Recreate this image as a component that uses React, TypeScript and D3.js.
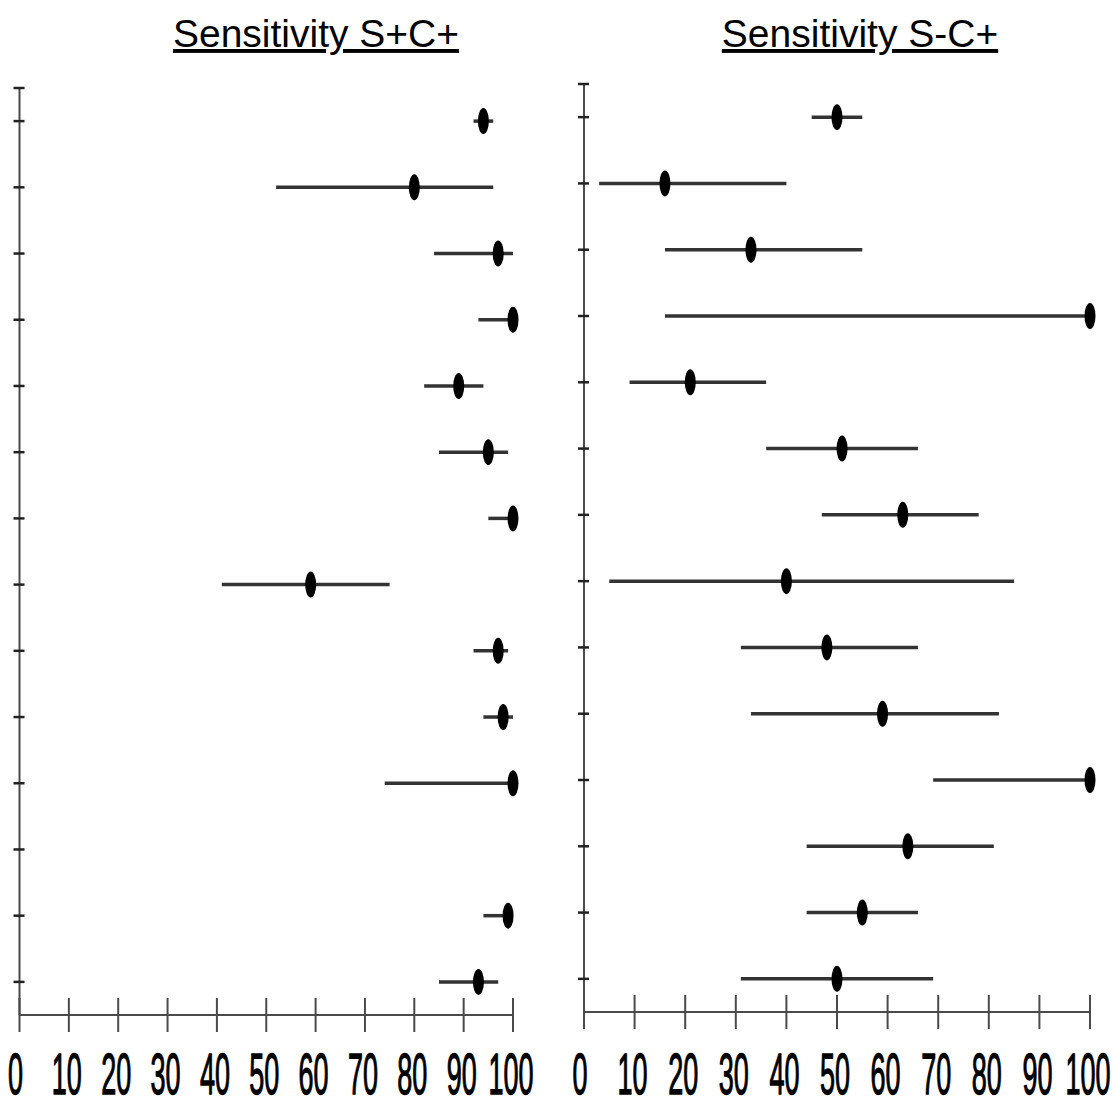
import React from "react";
import * as d3 from "d3";

// rows top to bottom, one estimate with its interval per row (null = no study result)
const leftEst = [94, 80, 97, 100, 89, 95, 100, 59, 97, 98, 100, null, 99, 93];
const leftLo = [92, 52, 84, 93, 82, 85, 95, 41, 92, 94, 74, null, 94, 85];
const leftHi = [96, 96, 100, 100, 94, 99, 100, 75, 99, 100, 100, null, 99.5, 97];

const rightEst = [50, 16, 33, 100, 21, 51, 63, 40, 48, 59, 100, 64, 55, 50];
const rightLo = [45, 3, 16, 16, 9, 36, 47, 5, 31, 33, 69, 44, 44, 31];
const rightHi = [55, 40, 55, 100, 36, 66, 78, 85, 66, 82, 100, 81, 66, 69];

const xTicks = [0, 10, 20, 30, 40, 50, 60, 70, 80, 90, 100];
const titles = ["Sensitivity S+C+", "Sensitivity S-C+"];

const width = 1114;
const height = 1108;

type PanelProps = {
  title: string;
  titleX: number;
  est: (number | null)[];
  lo: (number | null)[];
  hi: (number | null)[];
  xRange: [number, number];
  yRange: [number, number];
};

function Panel({ title, titleX, est, lo, hi, xRange, yRange }: PanelProps) {
  const n = est.length;
  const x = d3.scaleLinear().domain([0, 100]).range(xRange);
  const y = d3.scaleLinear().domain([-0.5, n - 0.5]).range(yRange);
  const rows = d3.range(n);
  const x0 = x(0);
  const yBottom = y(n - 0.5);
  const axisColor = "#4a4a4a";

  return (
    <g>
      <text
        x={titleX}
        y={47}
        textAnchor="middle"
        fontFamily="'Liberation Sans', Arial, sans-serif"
        fontSize={39}
        fill="#000"
        style={{ textDecoration: "underline" }}
      >
        {title}
      </text>

      {/* y axis */}
      <line x1={x0} x2={x0} y1={y(-0.5)} y2={yBottom} stroke={axisColor} strokeWidth={2} />
      {[-0.5, ...rows].map((r) => (
        <line
          key={"yt" + r}
          x1={x0 - 6}
          x2={x0 + 5}
          y1={y(r)}
          y2={y(r)}
          stroke="#222"
          strokeWidth={2.5}
        />
      ))}

      {/* x axis */}
      <line x1={x0} x2={x(100)} y1={yBottom} y2={yBottom} stroke={axisColor} strokeWidth={2} />
      {xTicks.map((t) => (
        <g key={"xt" + t}>
          <line
            x1={x(t)}
            x2={x(t)}
            y1={yBottom - 17}
            y2={yBottom + 17}
            stroke={axisColor}
            strokeWidth={2}
          />
          <text
            transform={`translate(${x(t) - (t === 0 ? 4 : 2)},${1094}) scale(1,2.15)`}
            textAnchor="middle"
            fontFamily="'Liberation Sans', Arial, sans-serif"
            fontSize={27}
            fill="#000"
            stroke="#000"
            strokeWidth={0.6}
          >
            {t}
          </text>
        </g>
      ))}

      {/* intervals and estimates */}
      {rows.map((i) =>
        est[i] == null ? null : (
          <g key={"r" + i}>
            <line
              x1={x(lo[i] as number)}
              x2={x(hi[i] as number)}
              y1={y(i)}
              y2={y(i)}
              stroke="#333"
              strokeWidth={3.5}
            />
            <ellipse cx={x(est[i] as number)} cy={y(i)} rx={5.5} ry={13} fill="#000" />
          </g>
        )
      )}
    </g>
  );
}

export default function App() {
  return (
    <svg
      width={width}
      height={height}
      style={{ position: "absolute", left: 0, top: 0, background: "#fff" }}
    >
      <rect width={width} height={height} fill="#fff" />
      <Panel
        title={titles[0]}
        titleX={316}
        est={leftEst}
        lo={leftLo}
        hi={leftHi}
        xRange={[19.5, 513]}
        yRange={[88, 1015]}
      />
      <Panel
        title={titles[1]}
        titleX={860}
        est={rightEst}
        lo={rightLo}
        hi={rightHi}
        xRange={[584, 1090]}
        yRange={[84, 1012]}
      />
    </svg>
  );
}
